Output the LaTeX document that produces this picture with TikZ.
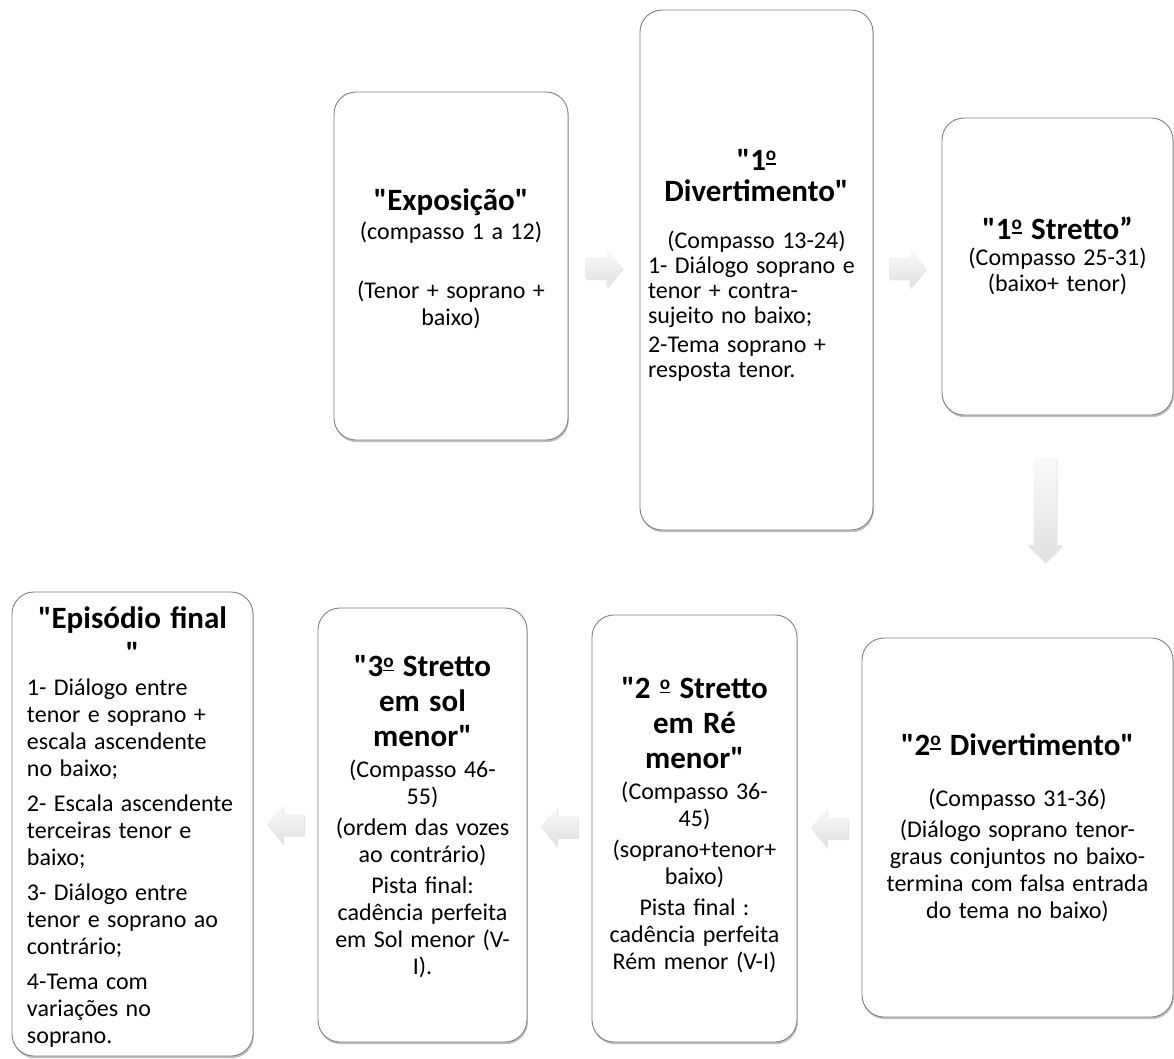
\documentclass[tikz,border=0pt]{standalone}
\usepackage{fontspec}
\usepackage{graphicx}
\setmainfont{Carlito}[Ligatures=TeXOff]
\usetikzlibrary{shadows,calc}
\definecolor{boxgray}{HTML}{808080}
\newcommand\mytitle{\fontsize{31}{35}\selectfont\bfseries\spaceskip=0.3em plus 0.1em minus 0.05em\relax}
\newcommand\mybody{\fontsize{24}{27}\selectfont\mdseries\spaceskip=0.31em plus 0.1em minus 0.05em\relax}
\newcommand\pgap{\par\vspace{4pt}}
\newcommand\tgap{\par\vspace{4pt}}
\newcommand\ordm{\raisebox{0.3em}{\scalebox{0.62}{\setbox0\hbox{o}\rlap{\rule[-0.2em]{\wd0}{0.1em}}\box0}}}
\tikzset{
  box/.style={draw=boxgray, line width=0.9pt, fill=white, rounded corners=22pt,
    inner sep=0pt, drop shadow={shadow xshift=0.8pt, shadow yshift=-2.2pt, opacity=0.35, fill=black!70}},
  txt/.style={inner sep=0pt, text width=#1},
  blockarrow/.style={top color=gray!4, bottom color=gray!24, draw=none,
    drop shadow={shadow xshift=1pt, shadow yshift=-1.5pt, opacity=0.2}},
  rarrow/.pic={\path[blockarrow] (-18.5,-10.5) -- (2.5,-10.5) -- (2.5,-19.5) -- (18.5,0) -- (2.5,19.5) -- (2.5,10.5) -- (-18.5,10.5) -- cycle;},
  larrow/.pic={\path[blockarrow] (18.5,-10.5) -- (-2.5,-10.5) -- (-2.5,-19.5) -- (-18.5,0) -- (-2.5,19.5) -- (-2.5,10.5) -- (18.5,10.5) -- cycle;},
  darrow/.pic={\path[blockarrow] (-11.5,-52) -- (11.5,-52) -- (11.5,35) -- (17.5,35) -- (0,52) -- (-17.5,35) -- (-11.5,35) -- cycle;}
}
\begin{document}
\begin{tikzpicture}[x=1pt,y=-1pt]
\useasboundingbox (0,0) rectangle (1174,1058);
\fill[white] (0,0) rectangle (1174,1058);

% boxes
\node[box, minimum width=234pt, minimum height=348pt] (b1) at (451,266) {};
\node[box, minimum width=233pt, minimum height=520pt] (b2) at (756.5,270) {};
\node[box, minimum width=231pt, minimum height=297pt] (b3) at (1057.5,266.5) {};
\node[box, minimum width=311pt, minimum height=379pt] (b4) at (1017.5,827.5) {};
\node[box, minimum width=205pt, minimum height=427pt] (b5) at (694.5,828.5) {};
\node[box, minimum width=209pt, minimum height=434pt] (b6) at (422.5,825) {};
\node[box, minimum width=241pt, minimum height=464pt] (b7) at (132.5,824) {};

% texts
\node[txt=220pt, yshift=7pt] (t1) at (b1.center) {\centering\mytitle "Exposição"\par\vspace{2pt}
  \mybody (compasso 1 a 12)\par\vspace{32pt} (Tenor + soprano +\\ baixo)\par};
\node[txt=217pt, yshift=5pt] (t2) at (b2.center) {\centering\fontsize{31}{31}\selectfont\bfseries "1\ordm\\ Divertimento"\par\vspace{22pt}
  \mybody\baselineskip=25pt (Compasso 13-24)\par
  {\raggedright 1- Diálogo soprano e\\ tenor + contra-\\ sujeito no baixo;\par\vspace{4pt}
  2-Tema soprano +\\ resposta tenor.\par}};
\node[txt=215pt, yshift=11pt] (t3) at (b3.center) {\centering\mytitle "1\ordm\ Stretto”\par
  \mybody\baselineskip=26pt (Compasso 25-31)\par (baixo+ tenor)\par};
\node[txt=300pt] (t4) at (b4.center) {\centering\mytitle "2\ordm\ Divertimento"\par\vspace{24pt}
  \mybody (Compasso 31-36)\pgap (Diálogo soprano tenor-\\ graus conjuntos no baixo-\\ termina com falsa entrada\\ do tema no baixo)\par};
\node[txt=195pt, yshift=3pt] (t5) at (b5.center) {\centering\mytitle "2 \ordm\ Stretto\\ em Ré\\ menor"\tgap
  \mybody (Compasso 36-\\ 45)\pgap (soprano+tenor+\\ baixo)\pgap Pista final :\\ cadência perfeita\\ Rém menor (V-I)\par};
\node[txt=199pt, yshift=8pt] (t6) at (b6.center) {\centering\mytitle "3\ordm\ Stretto\\ em sol\\ menor"\tgap
  \mybody (Compasso 46-\\ 55)\pgap (ordem das vozes\\ ao contrário)\pgap Pista final:\\ cadência perfeita\\ em Sol menor (V-\\ I).\par};
\node[txt=211pt, yshift=-3pt] (t7) at (b7.center) {\centering\mytitle "Episódio final\\ "\par\vspace{5pt}
  \mybody {\raggedright 1- Diálogo entre\\ tenor e soprano +\\ escala ascendente\\ no baixo;\par\vspace{8pt}
  2- Escala ascendente\\ terceiras tenor e\\ baixo;\par\vspace{8pt}
  3- Diálogo entre\\ tenor e soprano ao\\ contrário;\par\vspace{8pt}
  4-Tema com\\ variações no\\ soprano.\par}};

% arrows
\coordinate (a1) at ($(b1.east)!0.5!(b2.west)$);
\coordinate (a2) at ($(b2.east)!0.5!(b3.west)$);
\coordinate (a3) at (1045,510);
\coordinate (a4) at ($(b5.east)!0.5!(b4.west)$);
\coordinate (a5) at ($(b6.east)!0.5!(b5.west)$);
\coordinate (a6) at ($(b7.east)!0.5!(b6.west)$);
\pic at (a1) {rarrow};
\pic at (a2) {rarrow};
\pic at (a3) {darrow};
\pic at (a4) {larrow};
\pic at (a5) {larrow};
\pic at (a6) {larrow};
\end{tikzpicture}
\end{document}
